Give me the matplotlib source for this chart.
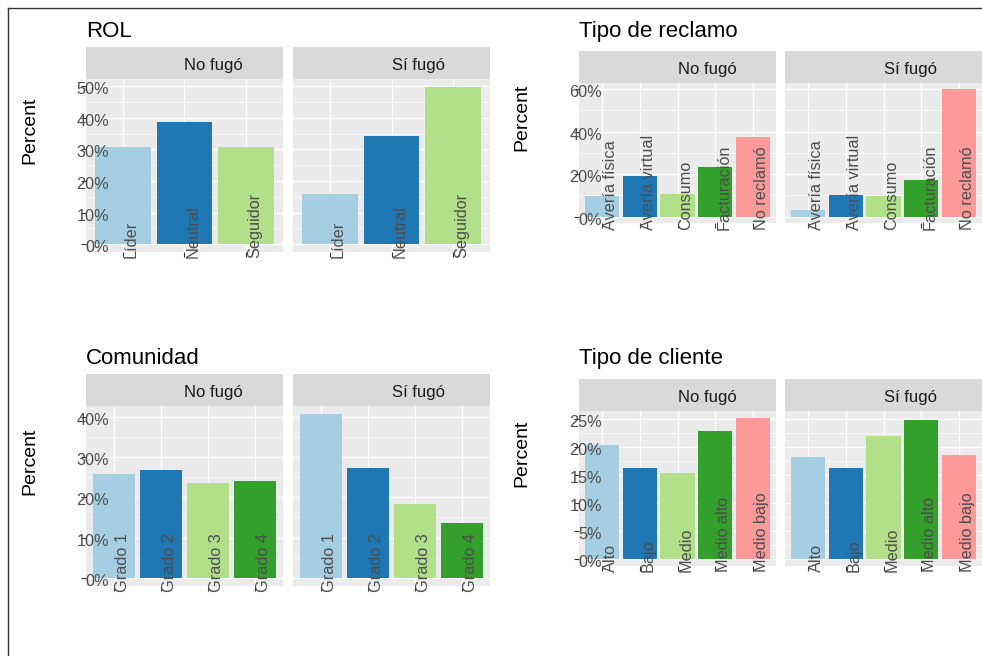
import matplotlib
matplotlib.use("Agg")
import matplotlib.pyplot as plt
import matplotlib.transforms as mtransforms
from matplotlib.lines import Line2D

plt.rcParams['font.family'] = ['Liberation Sans', 'DejaVu Sans']

W, H, DPI = 982, 656, 100

# datos (porcentaje por grupo)
grupos = ["No fugó", "Sí fugó"]
colores = ["#A6CEE3", "#1F78B4", "#B2DF8A", "#33A02C", "#FB9A99"]

rol_cat = ["Líder", "Neutral", "Seguidor"]
rol_no = [30.6, 38.8, 30.6]
rol_si = [16.0, 34.2, 49.8]
rol_ticks = [0, 10, 20, 30, 40, 50]

reclamo_cat = ["Avería física", "Avería virtual", "Consumo", "Facturación", "No reclamó"]
reclamo_no = [9.6, 19.0, 10.6, 23.4, 37.4]
reclamo_si = [3.0, 10.3, 9.7, 17.2, 59.8]
reclamo_ticks = [0, 20, 40, 60]

comunidad_cat = ["Grado 1", "Grado 2", "Grado 3", "Grado 4"]
comunidad_no = [25.7, 26.7, 23.5, 24.1]
comunidad_si = [40.6, 27.3, 18.4, 13.7]
comunidad_ticks = [0, 10, 20, 30, 40]

cliente_cat = ["Alto", "Bajo", "Medio", "Medio alto", "Medio bajo"]
cliente_no = [20.3, 16.3, 15.4, 22.8, 25.2]
cliente_si = [18.3, 16.3, 21.9, 24.9, 18.6]
cliente_ticks = [0, 5, 10, 15, 20, 25]

fig = plt.figure(figsize=(W / DPI, H / DPI), dpi=DPI)
fig.patch.set_facecolor("white")


def px_axes(x0, y0, x1, y1):
    return fig.add_axes([x0 / W, 1 - y1 / H, (x1 - x0) / W, (y1 - y0) / H])


def desplazar(base, dx, dy):
    # dx, dy en pixeles (y hacia arriba)
    return base + mtransforms.ScaledTranslation(dx / DPI, dy / DPI, fig.dpi_scale_trans)


def grafico(titulo, cats, valores, ticks, columnas, y_strip, y_top, y_bot, titulo_pos, percent_pos):
    ymax = max(max(v) for v in valores)
    lim = (-0.05 * ymax, 1.05 * ymax)
    menores = [(a + b) / 2 for a, b in zip(ticks[:-1], ticks[1:])]
    n = len(cats)

    for k, (x0, x1) in enumerate(columnas):
        # franja del facet
        st = px_axes(x0, y_strip, x1, y_top)
        st.set_facecolor("#D9D9D9")
        st.set_xticks([])
        st.set_yticks([])
        for s in st.spines.values():
            s.set_visible(False)
        st.text(0.5, 0, grupos[k], transform=desplazar(st.transAxes, 0, 9),
                ha="left", va="baseline", fontsize=12, color="#1A1A1A")

        ax = px_axes(x0, y_top, x1, y_bot)
        ax.set_facecolor("#EBEBEB")
        for s in ax.spines.values():
            s.set_visible(False)
        ax.bar(range(n), valores[k], width=0.9, color=colores[:n], zorder=2)
        ax.set_xlim(-0.6, n - 0.4)
        ax.set_ylim(*lim)
        ax.set_xticks(range(n))
        ax.set_xticklabels([])
        ax.set_yticks(ticks)
        ax.set_yticks(menores, minor=True)
        ax.set_yticklabels([])
        ax.grid(which="major", color="white", lw=1.0, zorder=0)
        ax.grid(which="minor", axis="y", color="white", lw=0.5, zorder=0)
        ax.set_axisbelow(True)
        ax.tick_params(axis="x", length=3.6, width=0.8, color="#333333")
        ax.tick_params(axis="y", which="minor", length=0)
        if k == 0:
            ax.tick_params(axis="y", which="major", length=3.6, width=0.8, color="#333333")
            ytr = desplazar(mtransforms.blended_transform_factory(ax.transAxes, ax.transData), 23, -3.5)
            for t in ticks:
                ax.text(0, t, "%d%%" % t, transform=ytr, ha="right", va="center",
                        fontsize=11.7, color="#4D4D4D", zorder=5, clip_on=False)
        else:
            ax.tick_params(axis="y", which="major", length=0)
        xtr = desplazar(mtransforms.blended_transform_factory(ax.transData, ax.transAxes), 1, -6.5)
        for i, c in enumerate(cats):
            ax.text(i, 0, c, transform=xtr, rotation=90, ha="left", va="bottom",
                    fontsize=11.7, color="#4D4D4D", zorder=5, clip_on=False)

    fig.text(titulo_pos[0] / W, 1 - titulo_pos[1] / H, titulo, ha="left", va="baseline",
             fontsize=16, color="black")
    fig.text(percent_pos[0] / W, 1 - percent_pos[1] / H, "Percent", rotation=90,
             ha="center", va="center", fontsize=14, color="black")


izq = [(86, 283), (293, 490)]
der = [(579, 776), (785, 982)]

grafico("ROL", rol_cat, [rol_no, rol_si], rol_ticks, izq, 47, 79, 252, (86, 37), (30, 130))
grafico("Tipo de reclamo", reclamo_cat, [reclamo_no, reclamo_si], reclamo_ticks, der,
        51, 83, 223, (579, 37), (522, 117))
grafico("Comunidad", comunidad_cat, [comunidad_no, comunidad_si], comunidad_ticks, izq,
        374, 406, 586, (86, 364), (30, 461))
grafico("Tipo de cliente", cliente_cat, [cliente_no, cliente_si], cliente_ticks, der,
        379, 411, 566, (579, 364), (522, 453))

# marco exterior (solo se ven los bordes superior e izquierdo)
fig.add_artist(Line2D([7.5 / W, 1.0], [1 - 7.5 / H, 1 - 7.5 / H], transform=fig.transFigure,
                      color="#333333", lw=1.0))
fig.add_artist(Line2D([7.5 / W, 7.5 / W], [1 - 7.5 / H, 0.0], transform=fig.transFigure,
                      color="#333333", lw=1.0))

fig.savefig("out.png", dpi=DPI)
